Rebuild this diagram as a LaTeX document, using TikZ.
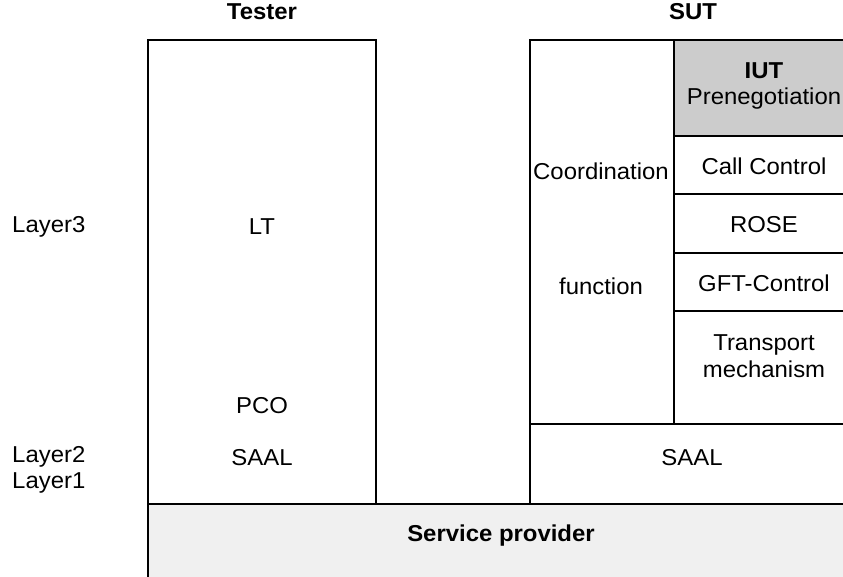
\documentclass[tikz,border=0pt]{standalone}
\usepackage{fontspec}
\setmainfont{Liberation Sans}[FakeStretch=1.04]
\definecolor{iutgrey}{HTML}{CCCCCC}
\definecolor{spgrey}{HTML}{F0F0F0}
\begin{document}
\begin{tikzpicture}[x=1pt,y=-1pt,
  frame/.style={draw=black,line width=2pt},
  lbl/.style={inner sep=0pt,font=\fontsize{23}{26.5}\selectfont,align=center},
  bold/.style={lbl,font=\fontsize{23}{26.5}\selectfont\bfseries},
  side/.style={lbl,anchor=west,align=left}]
\useasboundingbox (0,0) rectangle (843,576);
% service provider (right edge lies beyond the visible area)
\path[frame,fill=spgrey] (148,504) rectangle (856,580);
% tester
\path[frame] (148,40) rectangle (376,504);
% SUT
\path[frame,fill=iutgrey] (674,40) rectangle (856,136);
\path[frame] (530,40) rectangle (856,504);
\draw[frame] (674,40) -- (674,424);
\draw[frame] (530,424) -- (856,424);
\draw[frame] (674,136) -- (856,136);
\draw[frame] (674,194) -- (856,194);
\draw[frame] (674,253) -- (856,253);
\draw[frame] (674,311) -- (856,311);
% texts
\node[bold] (tester) at (262,12) {Tester};
\node[bold] (sut) at (693,12) {SUT};
\node[side] (l3) at (12,227) {Layer3};
\node[side] (l21) at (12,470) {Layer2\\Layer1};
\node[lbl] (lt) at (262,227) {LT};
\node[lbl] (pco) at (262,406) {PCO};
\node[lbl] (saal1) at (262,458) {SAAL};
\node[lbl] (coord) at (601,171) {Coordination};
\node[lbl] (func) at (601,286) {function};
\node[lbl] (iut) at (764,86) {\textbf{IUT}\\Prenegotiation};
\node[lbl] (cc) at (764,166) {Call Control};
\node[lbl] (rose) at (764,225) {ROSE};
\node[lbl] (gft) at (764,283) {GFT-Control};
\node[lbl] (tm) at (764,356) {Transport\\mechanism};
\node[lbl] (saal2) at (692,458) {SAAL};
\node[bold] (sp) at (501,536) {Service provider};
\end{tikzpicture}
\end{document}
